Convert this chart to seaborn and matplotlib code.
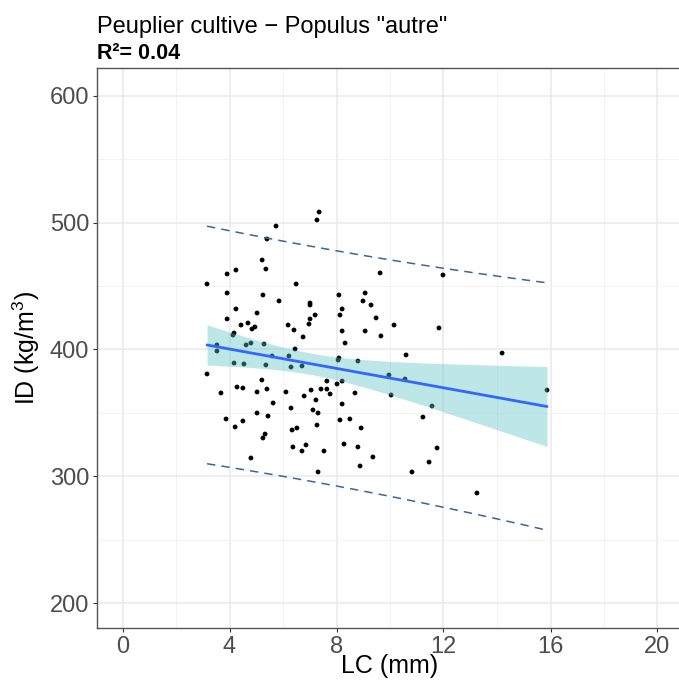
import numpy as np
import pandas as pd
import matplotlib
matplotlib.use("Agg")
import matplotlib.pyplot as plt
import seaborn as sns

# ---- data ----
lc = [5.74, 7.35, 7.27, 5.40, 5.22, 5.36, 4.24, 3.91, 3.16, 6.49,
      3.91, 5.25, 5.85, 7.01, 7.01, 7.20, 4.24, 5.03, 3.91, 7.01,
      6.97, 4.43, 4.69, 4.84, 4.95, 6.19, 6.41, 6.75, 4.13, 4.17,
      9.63, 8.09, 9.07, 8.99, 9.29, 8.21, 8.13, 9.48, 10.15, 11.83,
      8.21, 9.07, 9.66, 3.53, 3.53, 4.62, 4.80, 5.29, 6.45, 5.59,
      6.22, 4.17, 4.54, 5.36, 6.30, 6.71, 3.16, 5.21, 3.68, 4.28,
      4.50, 5.03, 5.40, 6.11, 7.05, 6.79, 7.23, 5.63, 6.30, 7.12,
      7.31, 5.03, 5.44, 3.87, 4.50, 4.21, 7.27, 6.34, 6.52, 5.33,
      5.25, 6.37, 6.86, 6.71, 4.80, 7.31, 8.32, 10.60, 8.06, 8.09,
      8.80, 9.96, 10.56, 7.64, 8.21, 8.02, 7.42, 7.64, 7.76, 8.69,
      10.04, 8.21, 11.57, 11.23, 8.13, 8.50, 8.92, 8.28, 8.80, 11.76,
      7.53, 9.36, 11.46, 8.88, 10.82, 14.19, 15.87, 13.25, 11.98]
id_ = [497.4, 508.5, 502.2, 487.2, 470.6, 463.5, 462.7, 459.6, 451.7, 451.7,
       444.6, 443.0, 438.3, 436.7, 435.1, 427.2, 432.0, 428.8, 424.1, 424.1,
       420.1, 419.3, 420.9, 416.2, 417.8, 419.3, 415.4, 409.9, 411.4, 413.0,
       460.4, 443.0, 444.6, 438.3, 435.1, 432.0, 427.2, 424.9, 419.3, 417.0,
       414.6, 414.6, 410.7, 403.6, 398.8, 403.6, 405.1, 404.3, 400.4, 394.9,
       394.9, 389.3, 388.6, 387.8, 386.2, 387.0, 380.7, 375.9, 365.7, 370.4,
       369.6, 366.5, 368.8, 366.5, 368.0, 363.3, 360.2, 357.8, 353.8, 352.3,
       349.9, 349.9, 347.5, 345.2, 343.6, 338.9, 340.4, 336.5, 338.1, 333.3,
       330.2, 323.1, 324.7, 319.9, 314.4, 303.4, 405.1, 395.7, 391.7, 393.3,
       390.9, 379.9, 376.7, 375.1, 375.1, 372.8, 368.8, 368.8, 364.9, 365.7,
       364.1, 357.0, 355.4, 346.7, 344.4, 345.2, 338.1, 325.4, 323.1, 322.3,
       319.9, 315.2, 311.2, 308.1, 303.4, 397.2, 368.0, 286.8, 458.8]

title = 'Peuplier cultive \u2212 Populus "autre"'
subtitle = "R\u00b2= 0.04"
x_label = "LC (mm)"
y_label = r"ID (kg/m$^{3}$)"
x_ticks = [0, 4, 8, 12, 16, 20]
y_ticks = [200, 300, 400, 500, 600]

df = pd.DataFrame({"LC": lc, "ID": id_})

# ---- linear fit with confidence and prediction intervals ----
x = df["LC"].to_numpy()
y = df["ID"].to_numpy()
n = len(x)
b1, b0 = np.polyfit(x, y, 1)
resid = y - (b0 + b1 * x)
s = np.sqrt(np.sum(resid ** 2) / (n - 2))
xm = x.mean()
sxx = np.sum((x - xm) ** 2)
try:
    from scipy import stats
    tq = stats.t.ppf(0.975, n - 2)
except Exception:
    tq = 1.981
xg = np.linspace(x.min(), x.max(), 100)
yg = b0 + b1 * xg
se_fit = s * np.sqrt(1 / n + (xg - xm) ** 2 / sxx)
se_pred = s * np.sqrt(1 + 1 / n + (xg - xm) ** 2 / sxx)

# ---- plot ----
sns.set_theme(style="white")
plt.rcParams["font.family"] = ["Liberation Sans", "DejaVu Sans"]
plt.rcParams["mathtext.default"] = "regular"

W, H = 679, 688
fig = plt.figure(figsize=(W / 100, H / 100), dpi=100)
left_px, right_px, top_px, bot_px = 97, 683, 68, 628
ax = fig.add_axes([left_px / W, 1 - bot_px / H,
                   (right_px - left_px) / W, (bot_px - top_px) / H])

px_per_x = 26.75
x0_px = 122.5
px_per_y = 1.2675
y600_px = 96
ax.set_xlim((left_px - x0_px) / px_per_x, (right_px - x0_px) / px_per_x)
ax.set_ylim(600 - (bot_px - y600_px) / px_per_y, 600 + (y600_px - top_px) / px_per_y)

ax.set_xticks(x_ticks)
ax.set_xticks([2, 6, 10, 14, 18], minor=True)
ax.set_yticks(y_ticks)
ax.set_yticks([250, 350, 450, 550], minor=True)
ax.grid(True, which="major", color="#EBEBEB", linewidth=1.2, zorder=0)
ax.grid(True, which="minor", color="#F2F2F2", linewidth=0.7, zorder=0)
ax.set_axisbelow(True)

sns.scatterplot(data=df, x="LC", y="ID", ax=ax, color="black", s=12,
                edgecolor="none", zorder=2)
ax.fill_between(xg, yg - tq * se_fit, yg + tq * se_fit, color="#5cc5c5",
                alpha=0.4, linewidth=0, zorder=3)
ax.plot(xg, yg, color="#3366FF", linewidth=2.0, zorder=4)
ax.plot(xg, yg + tq * se_pred, color="#3a6796", linewidth=1.1,
        linestyle=(0, (5.5, 4)), zorder=4)
ax.plot(xg, yg - tq * se_pred, color="#3a6796", linewidth=1.1,
        linestyle=(0, (5.5, 4)), zorder=4)

for side in ["left", "top", "bottom", "right"]:
    ax.spines[side].set_color("#555555")
    ax.spines[side].set_linewidth(1.0)

ax.tick_params(axis="both", which="major", length=3, width=0.8,
               color="#333333", labelcolor="#4D4D4D", labelsize=17,
               direction="out", bottom=True, left=True, pad=2.5)
ax.tick_params(axis="both", which="minor", length=0)

ax.set_xlabel(x_label, fontsize=18, color="black", labelpad=-2.5)
ax.set_ylabel(y_label, fontsize=18, color="black", labelpad=6)

fig.text(left_px / W, 1 - 33 / H, title, fontsize=17, color="black",
         ha="left", va="baseline")
fig.text(left_px / W, 1 - 59 / H, subtitle, fontsize=15.5, color="black",
         fontweight="bold", ha="left", va="baseline")

fig.savefig("out.png", dpi=100, facecolor="white")
